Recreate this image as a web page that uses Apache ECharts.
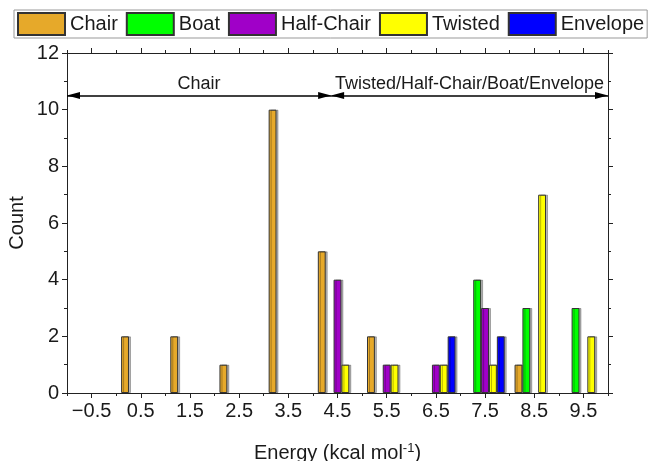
<!DOCTYPE html>
<html>
<head>
<meta charset="utf-8">
<script src="https://cdn.jsdelivr.net/npm/echarts@6/dist/echarts.min.js"></script>
<style>
html,body{margin:0;padding:0;background:#fff;}
#chart{width:651px;height:461px;}
</style>
</head>
<body>
<div id="chart"></div>
<script>
// Bin labels (bin centres, kcal/mol)
const categories = ['\u22120.5','0.5','1.5','2.5','3.5','4.5','5.5','6.5','7.5','8.5','9.5'];
// Counts per bin
const chair     = [0,2,2,1,10,5,2,0,0,1,0];
const boat      = [0,0,0,0,0,0,0,0,4,3,3];
const halfChair = [0,0,0,0,0,4,1,1,3,0,0];
const twisted   = [0,0,0,0,0,1,1,1,1,7,2];
const envelope  = [0,0,0,0,0,0,0,2,2,0,0];
const seriesNames = ['Chair','Boat','Half-Chair','Twisted','Envelope'];
const seriesColors = ['#E6A92A','#00FF00','#A000C8','#FFFF00','#0000FF'];
// Annotation arrows (energy range, count level)
const arrowLevel = 10.5;
const chairRange = [-1, 4.37];
const otherRange = [4.37, 10];
const chairLabel = 'Chair';
const otherLabel = 'Twisted/Half-Chair/Boat/Envelope';

const FONT = '"Liberation Sans", Arial, sans-serif';
const TXT = '#1a1a1a';
const AX = '#222';
const values = [chair, boat, halfChair, twisted, envelope];

const barSeries = values.map((arr, i) => ({
  name: seriesNames[i],
  type: 'bar',
  xAxisIndex: 0,
  yAxisIndex: 0,
  barGap: '0%',
  barCategoryGap: '20%',
  data: arr.map(v => v === 0 ? null : v),
  itemStyle: {
    color: seriesColors[i],
    borderColor: '#333',
    borderWidth: 1,
    shadowColor: 'rgba(0,0,0,0.28)',
    shadowOffsetX: 2,
    shadowOffsetY: 0,
    shadowBlur: 0
  }
}));

const tickStyle = {color: AX, width: 1};

const option = {
  animation: false,
  backgroundColor: '#fff',
  textStyle: {fontFamily: FONT},
  legend: {
    data: seriesNames,
    left: 14,
    top: 10,
    icon: 'rect',
    itemWidth: 47,
    itemHeight: 22,
    itemGap: 8,
    padding: [2, 3, 2, 3],
    borderColor: '#999',
    borderWidth: 1,
    textStyle: {fontSize: 20, color: TXT, fontFamily: FONT}
  },
  grid: {left: 67, right: 43, top: 53, bottom: 68, containLabel: false, outerBoundsMode: 'none'},
  xAxis: [
    {
      type: 'category', data: categories, position: 'bottom',
      axisLine: {show: true, onZero: false, lineStyle: tickStyle},
      axisTick: {show: true, interval: 0, length: 3, alignWithLabel: false, lineStyle: tickStyle},
      axisLabel: {interval: 0, fontSize: 20, color: TXT, margin: 8, fontFamily: FONT},
      splitLine: {show: false},
      name: 'Energy (kcal mol{sup|-1})',
      nameLocation: 'middle',
      nameGap: 49,
      nameTextStyle: {
        fontSize: 20, color: TXT, fontFamily: FONT,
        rich: {sup: {fontSize: 13, color: TXT, fontFamily: FONT, verticalAlign: 'top', padding: [0, 0, 10, 0]}}
      }
    },
    {
      type: 'category', data: categories, position: 'bottom',
      axisLine: {show: false, onZero: false},
      axisTick: {show: true, interval: 0, length: 5, alignWithLabel: true, lineStyle: tickStyle},
      axisLabel: {show: false},
      splitLine: {show: false}
    },
    {
      type: 'category', data: categories, position: 'top',
      axisLine: {show: true, onZero: false, lineStyle: tickStyle},
      axisTick: {show: true, interval: 0, length: 3, alignWithLabel: false, lineStyle: tickStyle},
      axisLabel: {show: false},
      splitLine: {show: false}
    },
    {
      type: 'category', data: categories, position: 'top',
      axisLine: {show: false, onZero: false},
      axisTick: {show: true, interval: 0, length: 5, alignWithLabel: true, lineStyle: tickStyle},
      axisLabel: {show: false},
      splitLine: {show: false}
    },
    {
      type: 'value', min: -1, max: 10, show: false, axisLine: {onZero: false}
    }
  ],
  yAxis: [
    {
      type: 'value', min: 0, max: 12, interval: 2, position: 'left',
      axisLine: {show: true, onZero: false, lineStyle: tickStyle},
      axisTick: {show: true, length: 5, lineStyle: tickStyle},
      minorTick: {show: true, splitNumber: 2, length: 3, lineStyle: tickStyle},
      axisLabel: {fontSize: 20, color: TXT, margin: 8, fontFamily: FONT},
      splitLine: {show: false},
      name: 'Count',
      nameLocation: 'middle',
      nameGap: 40,
      nameMoveOverlap: false,
      nameTextStyle: {fontSize: 20, color: TXT, fontFamily: FONT}
    },
    {
      type: 'value', min: 0, max: 12, interval: 2, position: 'right',
      axisLine: {show: true, onZero: false, lineStyle: tickStyle},
      axisTick: {show: true, length: 5, lineStyle: tickStyle},
      minorTick: {show: true, splitNumber: 2, length: 3, lineStyle: tickStyle},
      axisLabel: {show: false},
      splitLine: {show: false}
    }
  ],
  series: barSeries.concat([{
    type: 'line',
    xAxisIndex: 4,
    yAxisIndex: 0,
    data: [],
    silent: true,
    markLine: {
      silent: true,
      animation: false,
      symbol: ['triangle', 'triangle'],
      symbolSize: [7, 13],
      symbolOffset: [[0, 6.5], [0, 6.5]],
      lineStyle: {color: '#000', width: 1.5, type: 'solid'},
      label: {show: true, position: 'insideMiddleTop', fontSize: 18, color: TXT, fontFamily: FONT, distance: 2},
      emphasis: {disabled: true},
      data: [
        [{coord: [chairRange[0], arrowLevel], label: {formatter: chairLabel}}, {coord: [chairRange[1], arrowLevel]}],
        [{coord: [otherRange[0], arrowLevel], label: {formatter: otherLabel}}, {coord: [otherRange[1], arrowLevel]}]
      ]
    }
  }])
};

const chart = echarts.init(document.getElementById('chart'), null, {renderer: 'canvas'});
chart.setOption(option);
</script>
</body>
</html>
